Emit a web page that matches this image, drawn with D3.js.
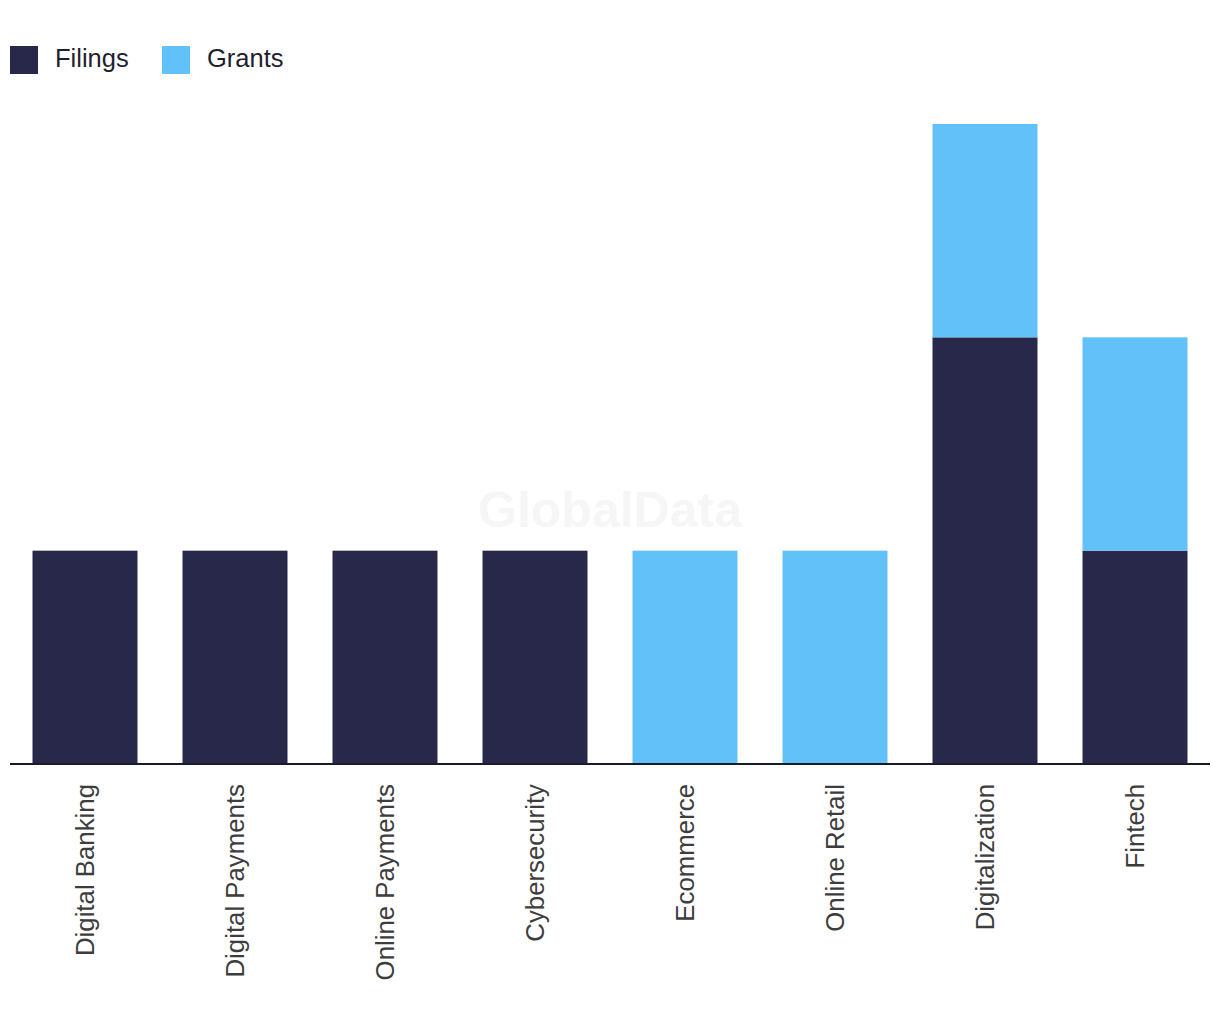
<!DOCTYPE html>
<html>
<head>
<meta charset="utf-8">
<script src="https://cdn.jsdelivr.net/npm/d3@7"></script>
<style>
  body { margin: 0; background: #fff; }
  svg { display: block; }
</style>
</head>
<body>
<svg id="chart" width="1220" height="1020"></svg>
<script>
const categories = ["Digital Banking", "Digital Payments", "Online Payments", "Cybersecurity", "Ecommerce", "Online Retail", "Digitalization", "Fintech"];
const filings = [1, 1, 1, 1, 0, 0, 2, 1];
const grants = [0, 0, 0, 0, 1, 1, 1, 1];
const seriesNames = ["Filings", "Grants"];
const seriesColors = ["#27284a", "#62c1f8"];

const svg = d3.select("#chart");
const plotLeft = 10, plotRight = 1210, baseline = 764, plotTop = 124;

const rows = categories.map((c, i) => ({ cat: c, Filings: filings[i], Grants: grants[i] }));
const stack = d3.stack().keys(seriesNames)(rows);

const x = d3.scaleBand().domain(categories).range([plotLeft, plotRight]).paddingInner(0.3).paddingOuter(0.15);
const maxV = d3.max(rows, d => d.Filings + d.Grants);
const y = d3.scaleLinear().domain([0, maxV]).range([baseline, plotTop]);

// watermark
svg.append("text")
  .attr("x", 610).attr("y", 527)
  .attr("text-anchor", "middle")
  .attr("font-family", "Liberation Sans, Arial, sans-serif")
  .attr("font-weight", "bold")
  .attr("font-size", 50)
  .attr("fill", "#f6f6f6")
  .text("GlobalData");

// bars
svg.append("g").selectAll("g")
  .data(stack)
  .join("g")
  .attr("fill", (d, i) => seriesColors[i])
  .selectAll("rect")
  .data(d => d)
  .join("rect")
  .attr("x", d => x(d.data.cat))
  .attr("width", x.bandwidth())
  .attr("y", d => y(d[1]))
  .attr("height", d => y(d[0]) - y(d[1]));

// axis
const axis = svg.append("g")
  .attr("transform", `translate(0,${baseline})`)
  .call(d3.axisBottom(x).tickSize(0).tickPadding(0));
axis.select(".domain").attr("stroke", "#1a1a2e").attr("stroke-width", 2).attr("d", `M${plotLeft},0H${plotRight}`);
axis.selectAll(".tick text")
  .attr("font-family", "Liberation Sans, Arial, sans-serif")
  .attr("font-size", 25.8)
  .attr("fill", "#3d3d3d")
  .attr("text-anchor", "end")
  .attr("transform", "rotate(-90)")
  .attr("x", -20)
  .attr("y", 0)
  .attr("dy", "0.35em");

// legend
const legend = svg.append("g");
const legendX = [10, 162];
seriesNames.forEach((name, i) => {
  const g = legend.append("g").attr("transform", `translate(${legendX[i]},46)`);
  g.append("rect").attr("width", 28).attr("height", 28).attr("fill", seriesColors[i]);
  g.append("text")
    .attr("x", 45).attr("y", 20.5)
    .attr("font-family", "Liberation Sans, Arial, sans-serif")
    .attr("font-size", 25.5)
    .attr("fill", "#1f1f2e")
    .text(name);
});
</script>
</body>
</html>
